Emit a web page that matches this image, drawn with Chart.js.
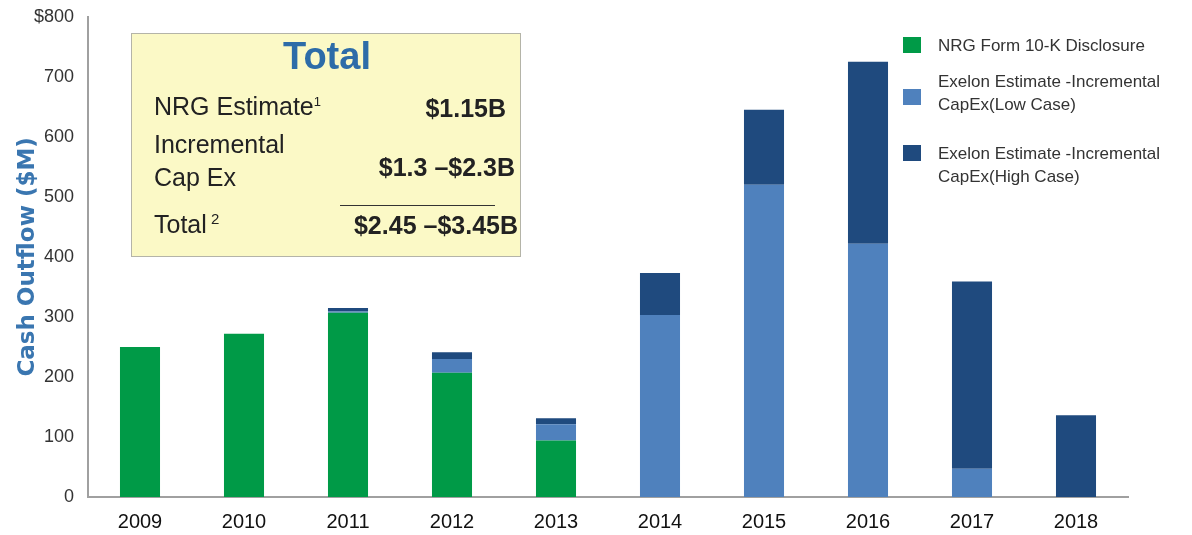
<!DOCTYPE html>
<html>
<head>
<meta charset="utf-8">
<script src="https://cdn.jsdelivr.net/npm/chart.js@4/dist/chart.umd.min.js"></script>
<style>
  body { margin: 0; background: #fff; font-family: "Liberation Sans", Arial, sans-serif; }
  #wrap { position: relative; width: 1192px; height: 535px; }
  #box {
    position: absolute; left: 131px; top: 33px; width: 390px; height: 224px;
    background: #fbf9c6; border: 1.5px solid #b4b4a8; box-sizing: border-box; color: #222;
  }
  #box div { position: absolute; white-space: nowrap; }
  .b { font-weight: bold; }
  #legend { position: absolute; left: 903px; top: 30px; font-size: 17px; color: #333; }
  #legend .item { position: absolute; white-space: nowrap; }
  #legend .sw { position: absolute; width: 18px; height: 16px; }
  #legend .tx { position: absolute; left: 35px; line-height: 23px; }
</style>
</head>
<body>
<div id="wrap">
  <canvas id="cash" width="1192" height="535"></canvas>
  <div id="box">
    <div style="left:0;width:390px;text-align:center;top:1px;font-size:38px;color:#2d6ca8" class="b">Total</div>
    <div style="left:22px;top:58px;font-size:25px">NRG Estimate<sup style="font-size:13px">1</sup></div>
    <div style="right:14px;top:60px;font-size:25px" class="b">$1.15B</div>
    <div style="left:22px;top:94px;font-size:25px;line-height:33px">Incremental<br>Cap Ex</div>
    <div style="right:5px;top:119px;font-size:25px" class="b">$1.3 –$2.3B</div>
    <div style="left:208px;top:171px;width:155px;border-top:1.5px solid #333"></div>
    <div style="left:22px;top:176px;font-size:25px">Total<sup style="font-size:15px"> 2</sup></div>
    <div style="right:2px;top:177px;font-size:25px" class="b">$2.45 –$3.45B</div>
  </div>
  <div id="legend"></div>
</div>
<script>
const years = ["2009", "2010", "2011", "2012", "2013", "2014", "2015", "2016", "2017", "2018"]
const nrgDisclosure = [250, 272, 307, 207, 94, 0, 0, 0, 0, 0]
const lowCase = [0, 0, 2, 23, 27, 303, 520, 422, 47, 0]
const highCase = [0, 0, 6, 11, 10, 70, 125, 303, 312, 136]

const seriesNames = [
    ["NRG Form 10-K Disclosure"],
    ["Exelon Estimate -Incremental", "CapEx(Low Case)"],
    ["Exelon Estimate -Incremental", "CapEx(High Case)"]
]
const seriesColors = ["#009a47", "#4f81bd", "#1f4a7e"]

const chart = new Chart(document.querySelector("#cash"), {
    type: "bar",
    data: {
        labels: years,
        datasets: [nrgDisclosure, lowCase, highCase].map((v, i) => {
            return {
                label: seriesNames[i].join(" "),
                data: v,
                backgroundColor: seriesColors[i],
                categoryPercentage: 1,
                barPercentage: 0.385
            }
        })
    },
    options: {
        responsive: false,
        animation: false,
        layout: { padding: { top: 16, right: 64, left: 0, bottom: 0 } },
        plugins: {
            legend: { display: false },
            tooltip: { enabled: false }
        },
        scales: {
            x: {
                stacked: true,
                grid: { display: false },
                border: { color: "#a0a0a0", width: 2 },
                ticks: { color: "#111", font: { size: 20, family: "Liberation Sans" }, padding: 5 },
                afterFit: s => { s.height = 38 }
            },
            y: {
                stacked: true,
                min: 0,
                max: 800,
                grid: { display: false },
                border: { color: "#a0a0a0", width: 2 },
                ticks: {
                    stepSize: 100,
                    padding: 6,
                    color: "#333",
                    font: { size: 18, family: "Liberation Sans" },
                    callback: v => v === 800 ? "$800" : v
                },
                title: {
                    display: true,
                    text: "Cash Outflow ($M)",
                    color: "#3a76b0",
                    font: { size: 23, weight: "bold", family: "DejaVu Sans" },
                    padding: { top: 14, bottom: 0 }
                },
                afterFit: s => { s.width = 88 }
            }
        }
    }
})

// legend drawn next to the plot, like the original slide
const legendTops = [4, 40, 112]
const swatchTops = [7, 59, 115]
const legend = document.querySelector("#legend")
seriesNames.forEach((lines, i) => {
    const item = document.createElement("div")
    item.className = "item"
    item.style.top = legendTops[i] + "px"
    item.innerHTML = `<div class="sw" style="top:${swatchTops[i] - legendTops[i]}px;background:${seriesColors[i]}"></div>` +
        `<div class="tx">${lines.join("<br>")}</div>`
    legend.appendChild(item)
})
</script>
</body>
</html>
